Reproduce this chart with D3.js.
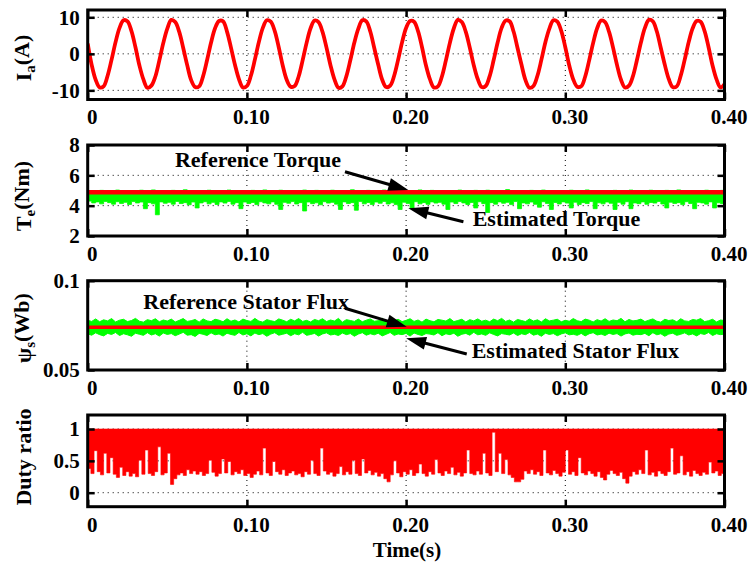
<!DOCTYPE html>
<html>
<head>
<meta charset="utf-8">
<script src="https://cdn.jsdelivr.net/npm/d3@7"></script>
<style>
  html, body { margin: 0; padding: 0; background: #fff; }
  svg text { font-family: "Liberation Serif", "Times New Roman", serif; font-weight: bold; fill: #000; }
  .tick text { font-size: 21px; }
  .tick line { stroke: #000; stroke-width: 2.5; }
  .grid { stroke: #000; stroke-width: 1; stroke-dasharray: 1 4; }
</style>
</head>
<body>
<svg id="chart" width="751" height="570"></svg>
<script>
// ---- data -------------------------------------------------------------
const timeTicks = [0, 0.1, 0.2, 0.3, 0.4];
const timeTickLabels = ["0", "0.10", "0.20", "0.30", "0.40"];
const timeGrid = [0.1, 0.2, 0.3];

// phase current Ia (A), sampled every 2.5 ms from 0 to 0.4 s
const iaValues = [
  2.8, -3.0, -7.1, -9.2, -8.9, -6.0, -1.6, 3.2, 7.1, 9.2, 8.9, 6.2,
  1.8, -3.2, -7.0, -9.3, -8.7, -6.2, -1.8, 3.0, 6.9, 9.3, 8.7, 6.0,
  1.6, -3.1, -7.2, -9.1, -8.9, -6.1, -1.7, 3.1, 7.0, 9.0, 8.9, 6.1,
  1.7, -3.0, -6.9, -9.2, -8.8, -6.0, -1.6, 3.2, 7.1, 9.2, 8.8, 6.2,
  1.8, -3.2, -7.1, -9.0, -8.8, -6.2, -1.8, 3.0, 7.0, 9.1, 8.7, 6.0,
  1.7, -3.1, -7.0, -9.3, -8.9, -6.1, -1.7, 3.1, 6.9, 9.2, 8.9, 6.1,
  1.6, -3.0, -7.1, -9.1, -8.7, -6.0, -1.6, 3.2, 7.1, 9.0, 8.8, 6.2,
  1.8, -3.2, -7.0, -9.2, -8.9, -6.2, -1.8, 3.0, 7.0, 9.3, 8.7, 6.0,
  1.7, -3.1, -6.9, -9.1, -8.8, -6.1, -1.7, 3.1, 7.1, 9.1, 8.9, 6.1,
  1.6, -3.0, -7.2, -9.3, -8.8, -6.0, -1.6, 3.2, 6.9, 9.2, 8.8, 6.2,
  1.8, -3.2, -7.0, -9.0, -8.9, -6.2, -1.8, 3.0, 7.0, 9.1, 8.7, 6.0,
  1.7, -3.1, -7.1, -9.2, -8.7, -6.1, -1.7, 3.1, 7.1, 9.3, 8.9, 6.1,
  1.6, -3.0, -6.9, -9.1, -8.9, -6.0, -1.6, 3.2, 7.0, 9.0, 8.8, 6.2,
  1.8, -3.2, -7.0, -9.2, -8.3
];

// electromagnetic torque (Nm)
const torqueRefTimes = [0, 0.4];
const torqueRefValues = [4.88, 4.88];
const torqueEstHigh = [
  4.96,4.99,4.93,5.01,4.95,4.98,4.92,5.03,4.97,4.94,
  5.00,4.96,4.91,5.02,4.98,4.95,5.04,4.93,4.99,4.97,
  4.94,5.01,4.96,4.92,5.05,4.98,4.95,5.00,4.93,4.97,
  5.02,4.94,4.99,4.96,4.91,5.03,4.97,4.95,5.00,4.93,
  4.98,5.01,4.94,4.97,5.04,4.92,4.99,4.96,5.02,4.95,
  4.93,5.00,4.97,4.94,5.03,4.98,4.91,5.01,4.96,4.99,
  4.95,5.02,4.93,4.97,5.00,4.94,5.05,4.96,4.92,4.99,
  5.01,4.95,4.98,4.93,5.03,4.97,4.94,5.00,4.96,5.02,
  4.92,4.99,4.95,5.04,4.97,4.93,5.01,4.96,4.98,4.94,
  5.00,4.97,4.92,5.03,4.95,4.99,4.96,5.01,4.93,4.98,
  5.02,4.94,4.97,5.00,4.95,5.06,4.96,4.92,4.99,4.97,
  4.94,5.01,4.98,4.93,5.03,4.96,4.95,5.00,4.97,4.92,
  4.99,5.02,4.94,4.98,4.96,5.04,4.93,4.97,5.00,4.95,
  4.98,4.92,5.01,4.96,4.99,4.94,5.03,4.97,4.93,5.00,
  4.96,5.02,4.95,4.98,4.91,5.01,4.97,4.94,5.04,4.96,
  4.99,4.93,5.00,4.97,4.95,5.02,4.94,4.98,4.96,5.01,
  4.97
];
const torqueEstLow = [
  4.30,4.18,4.25,4.12,4.28,4.20,4.10,4.26,4.15,4.22,
  4.08,4.27,4.18,4.24,3.80,4.20,4.12,3.40,4.25,4.16,
  4.22,4.10,4.28,4.14,4.20,4.06,4.24,3.85,4.18,4.26,
  4.12,4.22,4.08,4.25,4.17,4.28,4.10,4.20,3.80,4.24,
  4.14,4.21,4.07,4.26,4.18,4.12,4.25,4.09,3.75,4.22,
  4.16,4.27,4.11,4.20,3.65,4.24,4.13,4.19,4.06,4.26,
  4.17,4.22,4.10,3.75,4.25,4.14,4.20,3.70,4.27,4.12,
  4.21,4.08,4.24,4.16,4.28,4.11,4.19,4.07,3.75,4.23,
  4.15,3.80,4.26,4.12,4.20,4.09,4.25,4.17,4.22,4.10,
  3.75,4.24,4.14,4.27,4.18,4.08,4.21,3.85,4.26,4.13,
  3.55,4.20,4.10,4.25,4.16,4.22,4.07,4.27,3.80,4.18,
  4.12,4.24,4.09,3.90,4.26,4.15,3.75,4.21,4.11,4.25,
  4.17,3.85,4.23,4.08,4.20,4.14,4.27,3.80,4.19,4.12,
  4.24,4.16,3.75,4.22,4.10,4.26,3.80,4.18,4.13,4.25,
  4.09,4.21,4.17,4.28,4.11,3.85,4.23,4.15,4.20,4.07,
  4.26,4.14,3.80,4.22,4.18,4.10,4.25,3.85,4.19,4.13,
  4.24
];

// stator flux magnitude (Wb)
const fluxRefTimes = [0, 0.4];
const fluxRefValues = [0.0740, 0.0740];
const fluxEstHigh = [
  0.0778,0.0772,0.0786,0.0770,0.0781,0.0775,0.0788,0.0769,0.0779,0.0784,
  0.0771,0.0777,0.0789,0.0773,0.0768,0.0782,0.0776,0.0787,0.0770,0.0780,
  0.0774,0.0785,0.0769,0.0778,0.0788,0.0772,0.0776,0.0783,0.0768,0.0786,
  0.0775,0.0771,0.0784,0.0779,0.0770,0.0787,0.0773,0.0780,0.0769,0.0785,
  0.0777,0.0772,0.0789,0.0774,0.0768,0.0782,0.0776,0.0771,0.0786,0.0779,
  0.0770,0.0784,0.0775,0.0788,0.0772,0.0778,0.0769,0.0783,0.0776,0.0787,
  0.0771,0.0780,0.0774,0.0789,0.0768,0.0782,0.0777,0.0772,0.0785,0.0770,
  0.0779,0.0786,0.0773,0.0776,0.0790,0.0769,0.0781,0.0775,0.0784,0.0771,
  0.0778,0.0787,0.0772,0.0780,0.0768,0.0785,0.0776,0.0770,0.0783,0.0779,
  0.0774,0.0788,0.0771,0.0777,0.0784,0.0769,0.0782,0.0775,0.0786,0.0773,
  0.0779,0.0770,0.0785,0.0776,0.0789,0.0772,0.0780,0.0768,0.0783,0.0777,
  0.0771,0.0786,0.0774,0.0781,0.0769,0.0787,0.0775,0.0779,0.0784,0.0770,
  0.0778,0.0773,0.0788,0.0776,0.0771,0.0785,0.0779,0.0769,0.0782,0.0774,
  0.0787,0.0772,0.0780,0.0776,0.0789,0.0770,0.0783,0.0775,0.0778,0.0785,
  0.0771,0.0779,0.0786,0.0773,0.0768,0.0784,0.0777,0.0781,0.0770,0.0787,
  0.0775,0.0772,0.0783,0.0779,0.0788,0.0771,0.0776,0.0784,0.0769,0.0780,
  0.0777
];
const fluxEstLow = [
  0.0702,0.0695,0.0708,0.0698,0.0691,0.0705,0.0699,0.0710,0.0693,0.0703,
  0.0697,0.0689,0.0706,0.0700,0.0694,0.0709,0.0696,0.0703,0.0690,0.0707,
  0.0699,0.0704,0.0692,0.0701,0.0711,0.0695,0.0698,0.0688,0.0705,0.0700,
  0.0693,0.0708,0.0697,0.0702,0.0690,0.0706,0.0699,0.0694,0.0710,0.0696,
  0.0703,0.0691,0.0707,0.0698,0.0704,0.0689,0.0701,0.0709,0.0695,0.0700,
  0.0706,0.0692,0.0703,0.0697,0.0711,0.0694,0.0699,0.0705,0.0690,0.0702,
  0.0708,0.0696,0.0700,0.0693,0.0707,0.0698,0.0704,0.0689,0.0701,0.0709,
  0.0695,0.0703,0.0697,0.0706,0.0691,0.0700,0.0710,0.0694,0.0702,0.0698,
  0.0705,0.0690,0.0707,0.0699,0.0693,0.0704,0.0701,0.0696,0.0709,0.0692,
  0.0703,0.0698,0.0706,0.0689,0.0700,0.0705,0.0695,0.0711,0.0697,0.0702,
  0.0694,0.0708,0.0699,0.0691,0.0704,0.0700,0.0696,0.0707,0.0693,0.0703,
  0.0698,0.0710,0.0695,0.0701,0.0689,0.0706,0.0699,0.0704,0.0692,0.0702,
  0.0708,0.0697,0.0700,0.0694,0.0705,0.0691,0.0703,0.0709,0.0696,0.0701,
  0.0693,0.0706,0.0699,0.0704,0.0690,0.0702,0.0707,0.0695,0.0700,0.0698,
  0.0705,0.0692,0.0709,0.0697,0.0703,0.0689,0.0701,0.0706,0.0694,0.0700,
  0.0708,0.0696,0.0702,0.0691,0.0704,0.0699,0.0710,0.0693,0.0703,0.0698,
  0.0701
];

// duty ratio: upper bound and lower envelope of the switching signal (2 ms steps)
const dutyHigh = 1;
const dutyLow = [
  0.38,0.30,0.66,0.33,0.28,0.62,0.31,0.55,0.29,0.24,
  0.40,0.27,0.33,0.26,0.30,0.25,0.51,0.29,0.67,0.30,
  0.27,0.33,0.72,0.28,0.31,0.62,0.13,0.22,0.28,0.31,
  0.27,0.36,0.30,0.34,0.29,0.33,0.27,0.30,0.51,0.32,
  0.26,0.30,0.53,0.31,0.49,0.28,0.33,0.30,0.36,0.27,
  0.30,0.24,0.29,0.34,0.28,0.70,0.31,0.27,0.49,0.33,
  0.29,0.36,0.27,0.31,0.34,0.28,0.30,0.25,0.33,0.29,
  0.51,0.30,0.27,0.70,0.34,0.29,0.32,0.26,0.30,0.41,
  0.28,0.33,0.29,0.51,0.30,0.27,0.53,0.31,0.35,0.28,
  0.32,0.26,0.30,0.22,0.17,0.28,0.50,0.31,0.25,0.33,
  0.29,0.36,0.27,0.31,0.45,0.30,0.26,0.33,0.29,0.52,
  0.31,0.27,0.34,0.30,0.40,0.28,0.32,0.26,0.31,0.67,
  0.30,0.28,0.34,0.29,0.62,0.31,0.27,0.95,0.33,0.62,
  0.30,0.52,0.28,0.24,0.17,0.17,0.21,0.34,0.30,0.36,
  0.29,0.33,0.27,0.67,0.31,0.28,0.35,0.30,0.26,0.32,
  0.67,0.29,0.33,0.27,0.55,0.31,0.28,0.34,0.30,0.26,
  0.33,0.24,0.20,0.29,0.35,0.30,0.27,0.32,0.22,0.15,
  0.26,0.33,0.29,0.36,0.30,0.67,0.28,0.32,0.26,0.34,
  0.30,0.27,0.33,0.70,0.29,0.31,0.58,0.28,0.33,0.26,
  0.35,0.30,0.27,0.32,0.29,0.48,0.31,0.34,0.27,0.30,
  0.21
];

// ---- layout -------------------------------------------------------------
const svg = d3.select("#chart");
const x = d3.scaleLinear().domain([0, 0.4]).range([87.7, 724.5]);
const times = n => d3.range(n).map(i => 0.4 * i / (n - 1));
const RED = "#ff0000", GREEN = "#00ff00";

function yTitle(cx, cy, main, sub, rest) {
  const t = svg.append("text")
    .attr("transform", `translate(${cx},${cy}) rotate(-90)`)
    .attr("text-anchor", "middle")
    .style("font-size", "22px");
  t.append("tspan").text(main);
  if (sub) {
    t.append("tspan").attr("dy", "0.28em").style("font-size", "15px").text(sub);
    t.append("tspan").attr("dy", "-0.28em").text(rest);
  }
}

function arrow(g, xs, ys, a) {
  const x0 = xs(a.tail[0]), y0 = ys(a.tail[1]);
  const x1 = xs(a.tip[0]), y1 = ys(a.tip[1]);
  const dx = x1 - x0, dy = y1 - y0, len = Math.hypot(dx, dy);
  const ux = dx / len, uy = dy / len, head = 20, half = 6.5;
  const bx = x1 - ux * head, by = y1 - uy * head;
  g.append("line").attr("x1", x0).attr("y1", y0).attr("x2", bx + ux * 2).attr("y2", by + uy * 2)
    .attr("stroke", "#000").attr("stroke-width", 3);
  g.append("polygon")
    .attr("points", [[x1, y1], [bx - uy * half, by + ux * half], [bx + uy * half, by - ux * half]].map(p => p.join(",")).join(" "))
    .attr("fill", "#000");
  g.append("text").attr("x", xs(a.textAt[0])).attr("y", ys(a.textAt[1]))
    .style("font-size", "22px").text(a.text);
}

function panel(cfg) {
  const y = d3.scaleLinear().domain(cfg.domain).range([cfg.bottom, cfg.top]);
  const g = svg.append("g");
  const clipId = "clip-" + cfg.id;
  svg.append("clipPath").attr("id", clipId).append("rect")
    .attr("x", x(0)).attr("y", cfg.top)
    .attr("width", x(0.4) - x(0)).attr("height", cfg.bottom - cfg.top);

  // dotted grid
  g.append("g").selectAll("line").data(timeGrid).join("line").attr("class", "grid")
    .attr("x1", d => x(d)).attr("x2", d => x(d)).attr("y1", cfg.top).attr("y2", cfg.bottom);
  g.append("g").selectAll("line").data(cfg.grid).join("line").attr("class", "grid")
    .attr("x1", x(0)).attr("x2", x(0.4)).attr("y1", d => y(d)).attr("y2", d => y(d));

  // series
  const plot = g.append("g").attr("clip-path", `url(#${clipId})`);
  cfg.draw(plot, y);

  // frame
  g.append("rect").attr("x", x(0)).attr("y", cfg.top)
    .attr("width", x(0.4) - x(0)).attr("height", cfg.bottom - cfg.top)
    .attr("fill", "none").attr("stroke", "#000").attr("stroke-width", 3);

  // axes with inward ticks
  const bottomAxis = g.append("g").attr("transform", `translate(0,${cfg.bottom})`)
    .call(d3.axisBottom(x).tickValues(timeTicks).tickFormat((d, i) => timeTickLabels[i])
      .tickSize(-7).tickPadding(10));
  bottomAxis.selectAll(".tick text").attr("dx", 4);
  const topAxis = g.append("g").attr("transform", `translate(0,${cfg.top})`)
    .call(d3.axisTop(x).tickValues(timeTicks).tickFormat("").tickSize(-7));
  const leftAxis = g.append("g").attr("transform", `translate(${x(0)},0)`)
    .call(d3.axisLeft(y).tickValues(cfg.ticks).tickFormat((d, i) => cfg.tickLabels[i])
      .tickSize(-7).tickPadding(8));
  const rightAxis = g.append("g").attr("transform", `translate(${x(0.4)},0)`)
    .call(d3.axisRight(y).tickValues(cfg.ticks).tickFormat("").tickSize(-7));
  [bottomAxis, topAxis, leftAxis, rightAxis].forEach(a => {
    a.select(".domain").remove();
    a.attr("font-family", null).attr("font-size", null);
  });

  if (cfg.notes) {
    const ng = g.append("g");
    cfg.notes.forEach(n => arrow(ng, x, y, n));
  }
  return y;
}

// ---- panels -------------------------------------------------------------
panel({
  id: "ia", top: 10, bottom: 99.5, domain: [-12.5, 12],
  ticks: [-10, 0, 10], tickLabels: ["-10", "0", "10"], grid: [-10, 0, 10],
  draw: (p, y) => {
    const t = times(iaValues.length);
    p.append("path").datum(iaValues)
      .attr("d", d3.line().x((d, i) => x(t[i])).y(d => y(d)).curve(d3.curveCatmullRom))
      .attr("fill", "none").attr("stroke", RED).attr("stroke-width", 3.8);
  }
});

panel({
  id: "te", top: 145, bottom: 236, domain: [2, 8],
  ticks: [2, 4, 6, 8], tickLabels: ["2", "4", "6", "8"], grid: [4, 6],
  draw: (p, y) => {
    const t = times(torqueEstLow.length);
    p.append("path").datum(torqueEstLow)
      .attr("d", d3.area().x((d, i) => x(t[i])).y0(d => y(d)).y1((d, i) => y(torqueEstHigh[i]))
        .curve(d3.curveStepAfter))
      .attr("fill", GREEN).attr("stroke", GREEN).attr("stroke-width", 0.8);
    p.append("path").datum(torqueRefValues)
      .attr("d", d3.line().x((d, i) => x(torqueRefTimes[i])).y(d => y(d)))
      .attr("fill", "none").attr("stroke", RED).attr("stroke-width", 4.5);
  },
  notes: [
    { text: "Reference Torque", textAt: [0.0548, 6.53], tail: [0.1616, 6.24], tip: [0.2014, 5.03] },
    { text: "Estimated Torque", textAt: [0.2418, 2.66], tail: [0.236, 2.94], tip: [0.2014, 3.83] }
  ]
});

panel({
  id: "flux", top: 280.7, bottom: 370, domain: [0.05, 0.1],
  ticks: [0.05, 0.1], tickLabels: ["0.05", "0.1"], grid: [],
  draw: (p, y) => {
    const t = times(fluxEstLow.length);
    p.append("path").datum(fluxEstLow)
      .attr("d", d3.area().x((d, i) => x(t[i])).y0(d => y(d)).y1((d, i) => y(fluxEstHigh[i])))
      .attr("fill", GREEN).attr("stroke", GREEN).attr("stroke-width", 1);
    p.append("path").datum(fluxRefValues)
      .attr("d", d3.line().x((d, i) => x(fluxRefTimes[i])).y(d => y(d)))
      .attr("fill", "none").attr("stroke", RED).attr("stroke-width", 3.5);
  },
  notes: [
    { text: "Reference Stator Flux", textAt: [0.0349, 0.0840], tail: [0.1616, 0.0846], tip: [0.2004, 0.0742] },
    { text: "Estimated Stator Flux", textAt: [0.2412, 0.0566], tail: [0.2381, 0.0590], tip: [0.2, 0.0678] }
  ]
});

panel({
  id: "duty", top: 415, bottom: 506.7, domain: [-0.22, 1.22],
  ticks: [0, 0.5, 1], tickLabels: ["0", "0.5", "1"], grid: [0, 0.5, 1],
  draw: (p, y) => {
    const t = times(dutyLow.length);
    p.append("path").datum(dutyLow)
      .attr("d", d3.area().x((d, i) => x(t[i])).y0(d => y(d)).y1(y(dutyHigh)).curve(d3.curveStepAfter))
      .attr("fill", RED).attr("stroke", RED).attr("stroke-width", 0.6);
  }
});

// axis titles
yTitle(31, 58, "I", "a", "(A)");
yTitle(31, 196, "T", "e", "(Nm)");
yTitle(31, 328, "ψ", "s", "(Wb)");
yTitle(31, 457, "Duty ratio");

svg.append("text").attr("x", 407).attr("y", 557).attr("text-anchor", "middle")
  .style("font-size", "21px").text("Time(s)");
</script>
</body>
</html>
